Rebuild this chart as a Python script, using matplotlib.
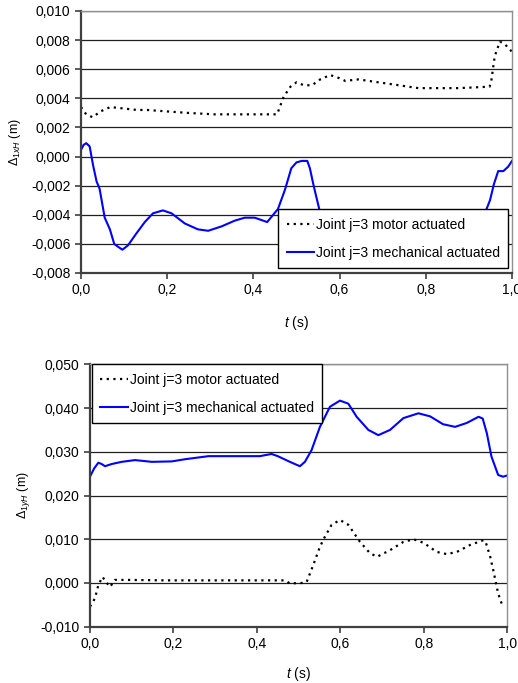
import matplotlib
matplotlib.use("Agg")
import matplotlib.pyplot as plt

plt.rcParams['font.family'] = ['Liberation Sans', 'DejaVu Sans']
plt.rcParams['mathtext.fontset'] = 'custom'
plt.rcParams['mathtext.rm'] = 'Liberation Sans'
plt.rcParams['mathtext.it'] = 'Liberation Sans:italic'

# x-deviation of point H
t_xm = [0.0, 0.012, 0.027, 0.045, 0.068, 0.099, 0.13, 0.153, 0.2, 0.247, 0.309, 0.40, 0.455,
        0.46, 0.47, 0.486, 0.5, 0.517, 0.536, 0.555, 0.578, 0.598, 0.613, 0.644, 0.667, 0.69,
        0.737, 0.783, 0.875, 0.948, 0.952, 0.96, 0.972, 0.984, 1.0]
x_motor = [0.0034, 0.0029, 0.0027, 0.0031, 0.0034, 0.0033, 0.0032, 0.0032, 0.0031, 0.0030,
           0.0029, 0.0029, 0.0029, 0.0033, 0.0041, 0.0048, 0.0051, 0.0049, 0.0049, 0.0053,
           0.0056, 0.0054, 0.0052, 0.0053, 0.0052, 0.0051, 0.0049, 0.0047, 0.0047, 0.0048,
           0.0052, 0.0069, 0.0079, 0.0077, 0.0072]

t_xc = [0.0, 0.006, 0.012, 0.020, 0.028, 0.036, 0.043, 0.055, 0.067, 0.077, 0.086, 0.096,
        0.109, 0.128, 0.148, 0.167, 0.190, 0.21, 0.241, 0.271, 0.295, 0.326, 0.357, 0.38,
        0.403, 0.432, 0.457, 0.473, 0.488, 0.5, 0.512, 0.525, 0.531, 0.539, 0.547, 0.556,
        0.58, 0.60, 0.625, 0.648, 0.67, 0.686, 0.709, 0.74, 0.78, 0.82, 0.85, 0.89, 0.92,
        0.937, 0.949, 0.958, 0.968, 0.98, 0.991, 1.0]
x_mech = [0.00046, 0.0008, 0.00092, 0.0007, -0.0006, -0.0017, -0.0022, -0.0042, -0.0050,
          -0.0060, -0.0062, -0.0064, -0.0061, -0.0053, -0.0045, -0.0039, -0.0037, -0.0039,
          -0.0046, -0.0050, -0.0051, -0.0048, -0.0044, -0.0042, -0.0042, -0.0045, -0.0036,
          -0.0023, -0.0008, -0.0004, -0.0003, -0.0003, -0.0008, -0.0019, -0.0029, -0.0040,
          -0.0052, -0.0056, -0.0052, -0.0043, -0.0039, -0.0037, -0.0040, -0.0047, -0.0050,
          -0.0046, -0.0043, -0.0046, -0.0044, -0.0039, -0.0030, -0.0019, -0.0010, -0.0010,
          -0.0007, -0.0003]

# y-deviation of point H
t_ym = [0.0, 0.012, 0.02, 0.03, 0.038, 0.048, 0.06, 0.088, 0.184, 0.40, 0.467, 0.479, 0.507,
        0.519, 0.535, 0.551, 0.563, 0.579, 0.599, 0.619, 0.647, 0.671, 0.688, 0.719, 0.751,
        0.775, 0.799, 0.831, 0.855, 0.879, 0.911, 0.943, 0.948, 0.959, 0.968, 0.978, 0.989]
y_motor = [-0.0054, -0.0035, -0.0005, 0.0014, 0.0003, -0.0009, 0.0007, 0.0007, 0.0006,
           0.0006, 0.0006, -0.0001, 0.0000, 0.0002, 0.0041, 0.0083, 0.0106, 0.0133, 0.0144,
           0.0133, 0.0094, 0.0068, 0.0060, 0.0075, 0.0094, 0.0100, 0.0092, 0.0071, 0.0066,
           0.0071, 0.0087, 0.0098, 0.0094, 0.0060, 0.0022, -0.0024, -0.0054]

t_yc = [0.0, 0.010, 0.02, 0.028, 0.036, 0.052, 0.076, 0.108, 0.148, 0.196, 0.228, 0.284,
        0.347, 0.407, 0.435, 0.45, 0.479, 0.503, 0.515, 0.531, 0.551, 0.575, 0.599, 0.619,
        0.639, 0.667, 0.691, 0.719, 0.751, 0.787, 0.815, 0.846, 0.875, 0.903, 0.931, 0.941,
        0.951, 0.962, 0.978, 0.99, 1.0]
y_mech = [0.0243, 0.0262, 0.0275, 0.0272, 0.0267, 0.0272, 0.0277, 0.0281, 0.0277, 0.0278,
          0.0283, 0.0290, 0.0290, 0.0290, 0.0295, 0.0290, 0.0277, 0.0267, 0.0277, 0.0304,
          0.0357, 0.0403, 0.0417, 0.0410, 0.0380, 0.0350, 0.0338, 0.0350, 0.0377, 0.0388,
          0.0381, 0.0363, 0.0357, 0.0366, 0.0380, 0.0376, 0.0342, 0.0289, 0.0247, 0.0243,
          0.0246]

lbl_motor = 'Joint j=3 motor actuated'
lbl_mech = 'Joint j=3 mechanical actuated'
x_ticks = [0.0, 0.2, 0.4, 0.6, 0.8, 1.0]
top_ticks = [0.010, 0.008, 0.006, 0.004, 0.002, 0.000, -0.002, -0.004, -0.006, -0.008]
bot_ticks = [0.050, 0.040, 0.030, 0.020, 0.010, 0.000, -0.010]

fig = plt.figure(figsize=(5.18, 6.83), dpi=100)
ax1 = fig.add_axes([0.1564, 0.6003, 0.832, 0.3836])
ax2 = fig.add_axes([0.1737, 0.0824, 0.8057, 0.3842])

dots = (0, (1, 2))


def style(ax, yticks, ylabel, xpad):
    ax.set_xlim(0, 1)
    ax.set_ylim(min(yticks), max(yticks))
    ax.set_xticks(x_ticks)
    ax.set_xticklabels([f'{v:.1f}'.replace('.', ',') for v in x_ticks])
    ax.set_yticks(yticks)
    ax.set_yticklabels([f'{v:.3f}'.replace('.', ',') for v in yticks])
    ax.tick_params(labelsize=10, length=4, width=1.2, color='#404040', direction='out')
    ax.grid(axis='y', color='#202020', lw=0.9)
    ax.set_axisbelow(True)
    for s in ['left', 'bottom']:
        ax.spines[s].set_color('#404040')
        ax.spines[s].set_linewidth(1.6)
    for s in ['top', 'right']:
        ax.spines[s].set_color('#909090')
        ax.spines[s].set_linewidth(1.0)
    ax.set_xlabel(r'$t$ (s)', fontsize=10, labelpad=xpad)
    ax.set_ylabel(ylabel, fontsize=9, labelpad=6)


def add_legend(ax, **kw):
    leg = ax.legend(fontsize=10, fancybox=False, framealpha=1, edgecolor='black',
                    handlelength=2.0, handletextpad=0.1, borderaxespad=0,
                    labelspacing=1.0, borderpad=0.6, **kw)
    leg.get_frame().set_linewidth(1.0)
    return leg


ax1.plot(t_xm, x_motor, color='black', lw=1.6, ls=dots, label=lbl_motor)
ax1.plot(t_xc, x_mech, color='#0000ff', lw=1.5, label=lbl_mech)
style(ax1, top_ticks, r'$\Delta_{1xH}$ (m)', 12)
add_legend(ax1, loc='lower right', bbox_to_anchor=(0.991, 0.019))

ax2.plot(t_ym, y_motor, color='black', lw=1.6, ls=dots, label=lbl_motor)
ax2.plot(t_yc, y_mech, color='#0000ff', lw=1.5, label=lbl_mech)
style(ax2, bot_ticks, r'$\Delta_{1yH}$ (m)', 10)
add_legend(ax2, loc='upper left', bbox_to_anchor=(0.005, 1.0))

fig.savefig('out.png', dpi=100)
